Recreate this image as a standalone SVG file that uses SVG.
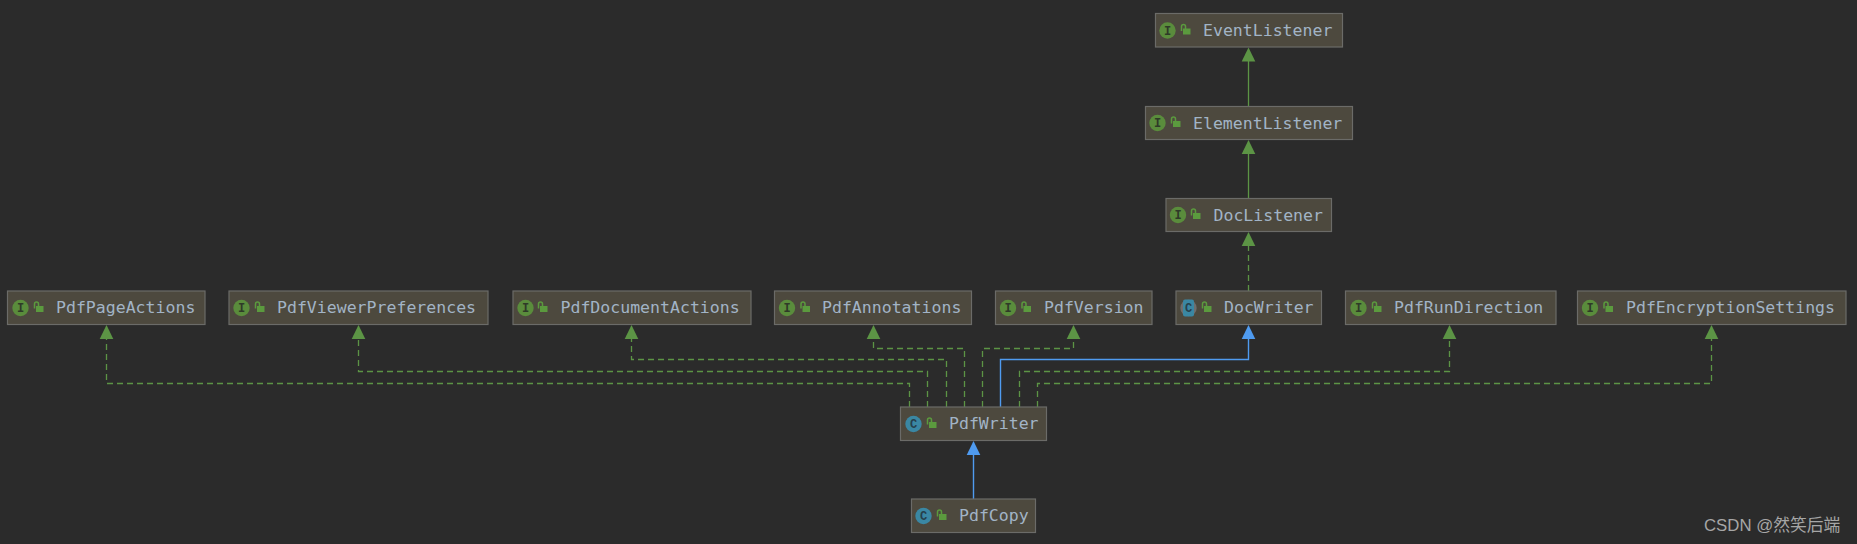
<svg xmlns="http://www.w3.org/2000/svg" width="1857" height="544" viewBox="0 0 1857 544">
<style>
.b{fill:#4d493e;stroke:#6b6b68;stroke-width:1.2}
.t{font-family:"DejaVu Sans Mono","Liberation Mono",monospace;font-size:16.55px;fill:#a2b4c6}
.ii{fill:#5a8c3c}.ci{fill:#3a87a3}
.g{font-family:"Liberation Mono",monospace;font-weight:bold;font-size:12px;fill:#2f3a28;text-anchor:middle}
.c{font-family:"Liberation Mono",monospace;font-weight:bold;font-size:12px;fill:#26404c;text-anchor:middle}
.l{fill:#5b9a3e}.s{fill:none;stroke:#5b9a3e;stroke-width:1.5}
.dash{fill:none;stroke:#5c9445;stroke-width:1.3;stroke-dasharray:6 4}
.solidg{fill:none;stroke:#5c9445;stroke-width:1.3}
.solidb{fill:none;stroke:#4f9bf0;stroke-width:1.4}
.hg{fill:#5c9445}.hb{fill:#4f9bf0}
.w{font-family:"Liberation Sans","Noto Sans CJK SC",sans-serif;font-size:16.8px;fill:#a6a6a6}
</style>
<defs>
<g id="lock"><path class="s" d="M0.500 5V0.500Q0.500 -1.500 2.500 -1.500Q4.500 -1.500 4.500 0.500V3"/><rect class="l" x="2" y="2.500" width="7.500" height="6"/></g>
<g id="ic"><circle class="ii" r="8.200"/><text class="g" y="4">I</text></g>
<g id="cc"><circle class="ci" r="8.200"/><text class="c" y="4">C</text></g>
</defs>
<rect width="1857" height="544" fill="#2b2b2b"/>
<g id="connectors">
<path class="solidg" d="M1248.500 106V60"/>
<path class="solidg" d="M1248.500 198V152"/>
<path class="dash" d="M1248.500 291V244"/>
<path class="dash" d="M909.500 407V383.500H106.500V336"/>
<path class="dash" d="M927.500 407V371.500H358.500V336"/>
<path class="dash" d="M946.500 407V359.500H631.500V336"/>
<path class="dash" d="M964.500 407V348.500H873.500V336"/>
<path class="dash" d="M982.500 407V348.500H1073.500V336"/>
<path class="solidb" d="M1000.500 407V359.500H1248.500V336"/>
<path class="dash" d="M1019.500 407V371.500H1449.500V336"/>
<path class="dash" d="M1037.500 407V383.500H1711.500V336"/>
<path class="solidb" d="M973.500 499V452"/>
<path class="hg" d="M1248.500 47.500l6.800 14h-13.600z"/>
<path class="hg" d="M1248.500 140l6.800 14h-13.600z"/>
<path class="hg" d="M1248.500 232l6.800 14h-13.600z"/>
<path class="hg" d="M106.500 325l6.800 14h-13.600z"/>
<path class="hg" d="M358.500 325l6.800 14h-13.600z"/>
<path class="hg" d="M631.500 325l6.800 14h-13.600z"/>
<path class="hg" d="M873.500 325l6.800 14h-13.600z"/>
<path class="hg" d="M1073.500 325l6.800 14h-13.600z"/>
<path class="hb" d="M1248.500 325l6.800 14h-13.600z"/>
<path class="hg" d="M1449.500 325l6.800 14h-13.600z"/>
<path class="hg" d="M1711.500 325l6.800 14h-13.600z"/>
<path class="hb" d="M973.500 441l6.800 14h-13.600z"/>
</g>
<g id="EventListener"><rect class="b" x="1155.500" y="13.500" width="187" height="33.500"/><use href="#ic" x="1167.500" y="30.500"/><use href="#lock" x="1181" y="26"/><text class="t" x="1203" y="35.500">EventListener</text></g>
<g id="ElementListener"><rect class="b" x="1145.500" y="106.500" width="207" height="33"/><use href="#ic" x="1157.500" y="123"/><use href="#lock" x="1171" y="118.500"/><text class="t" x="1193" y="128.500">ElementListener</text></g>
<g id="DocListener"><rect class="b" x="1166" y="198.500" width="165.500" height="33"/><use href="#ic" x="1178" y="215"/><use href="#lock" x="1191" y="210.500"/><text class="t" x="1213.500" y="220.500">DocListener</text></g>
<g id="PdfPageActions"><rect class="b" x="7.500" y="291" width="197.500" height="33.500"/><use href="#ic" x="20.500" y="308"/><use href="#lock" x="34" y="303.500"/><text class="t" x="56" y="313">PdfPageActions</text></g>
<g id="PdfViewerPreferences"><rect class="b" x="229" y="291" width="259" height="33.500"/><use href="#ic" x="241.500" y="308"/><use href="#lock" x="255" y="303.500"/><text class="t" x="277" y="313">PdfViewerPreferences</text></g>
<g id="PdfDocumentActions"><rect class="b" x="513" y="291" width="238" height="33.500"/><use href="#ic" x="525.500" y="308"/><use href="#lock" x="538" y="303.500"/><text class="t" x="560.500" y="313">PdfDocumentActions</text></g>
<g id="PdfAnnotations"><rect class="b" x="774.500" y="291" width="197" height="33.500"/><use href="#ic" x="787" y="308"/><use href="#lock" x="800.500" y="303.500"/><text class="t" x="822" y="313">PdfAnnotations</text></g>
<g id="PdfVersion"><rect class="b" x="995.500" y="291" width="156.500" height="33.500"/><use href="#ic" x="1008" y="308"/><use href="#lock" x="1021.500" y="303.500"/><text class="t" x="1044" y="313">PdfVersion</text></g>
<g id="DocWriter"><rect class="b" x="1176" y="291" width="145.500" height="33.500"/><circle cx="1188.500" cy="308" r="8.200" fill="#6e6e6e"/><rect class="ci" x="1183" y="299.500" width="11" height="17" rx="2"/><text class="c" x="1188.500" y="312">C</text><use href="#lock" x="1202" y="303.500"/><text class="t" x="1224" y="313">DocWriter</text></g>
<g id="PdfRunDirection"><rect class="b" x="1345.500" y="291" width="210.500" height="33.500"/><use href="#ic" x="1358.500" y="308"/><use href="#lock" x="1372" y="303.500"/><text class="t" x="1394" y="313">PdfRunDirection</text></g>
<g id="PdfEncryptionSettings"><rect class="b" x="1577.500" y="291" width="268.500" height="33.500"/><use href="#ic" x="1590" y="308"/><use href="#lock" x="1603.500" y="303.500"/><text class="t" x="1626" y="313">PdfEncryptionSettings</text></g>
<g id="PdfWriter"><rect class="b" x="900.500" y="407" width="146" height="33.500"/><use href="#cc" x="913.500" y="424"/><use href="#lock" x="927" y="419.500"/><text class="t" x="949" y="429">PdfWriter</text></g>
<g id="PdfCopy"><rect class="b" x="911.500" y="499" width="124" height="33.500"/><use href="#cc" x="923.500" y="516"/><use href="#lock" x="937" y="511.500"/><text class="t" x="959" y="521">PdfCopy</text></g>
<text class="w" x="1704" y="531">CSDN @然笑后端</text>
</svg>
